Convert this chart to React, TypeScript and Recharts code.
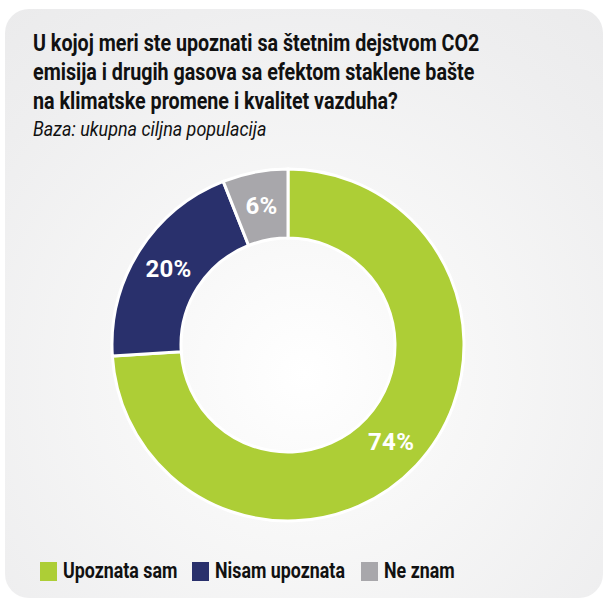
import React from "react";
import { PieChart, Pie, Cell, Legend } from "recharts";

const categories = ["Upoznata sam", "Nisam upoznata", "Ne znam"];
const shares = [74, 20, 6];
const colors = ["#adce36", "#29306c", "#a8a7ab"];

const titleLines = [
  "U kojoj meri ste upoznati sa štetnim dejstvom CO2",
  "emisija i drugih gasova sa efektom staklene bašte",
  "na klimatske promene i kvalitet vazduha?",
];
const subtitle = "Baza: ukupna ciljna populacija";

const data = categories.map((name, i) => ({ name, value: shares[i] }));

const RAD = Math.PI / 180;
const FONT = "Roboto, Arial, sans-serif";

function renderLabel(props: any) {
  const { cx, cy, midAngle, innerRadius, outerRadius, value } = props;
  const r = (innerRadius + outerRadius) / 2;
  const x = cx + r * Math.cos(-midAngle * RAD);
  const y = cy + r * Math.sin(-midAngle * RAD);
  return (
    <text
      x={x}
      y={y}
      fill="#ffffff"
      textAnchor="middle"
      dominantBaseline="central"
      fontFamily={FONT}
      fontWeight={700}
      fontSize={24}
      letterSpacing={0.3}
    >
      {value}%
    </text>
  );
}

// legend item widths so the squares land where the original has them
const legendWidths = [152, 169, 120];

function LegendContent() {
  return (
    <div style={{ display: "flex", alignItems: "center", fontFamily: FONT }}>
      {categories.map((c, i) => (
        <div key={c} style={{ display: "flex", alignItems: "center", width: legendWidths[i] }}>
          <span style={{ width: 17, height: 19, background: colors[i], display: "inline-block", marginRight: 6, flex: "none" }} />
          <span
            style={{
              fontSize: 22,
              fontWeight: 700,
              color: "#111",
              display: "inline-block",
              whiteSpace: "nowrap",
              transform: "scaleX(0.81)",
              transformOrigin: "left center",
              lineHeight: "24px",
            }}
          >
            {c}
          </span>
        </div>
      ))}
    </div>
  );
}

export default function App() {
  return (
    <div style={{ position: "absolute", left: 0, top: 0, width: 603, height: 600, background: "#fff", overflow: "hidden" }}>
      <div
        style={{
          position: "absolute",
          left: 5,
          top: 9,
          width: 598,
          height: 589,
          borderRadius: 24,
          background: "radial-gradient(circle at 50% 62%, #ffffff 0%, #f7f7f7 35%, #eeeeef 80%, #ebebec 100%)",
        }}
      />
      <div style={{ position: "absolute", left: 33, top: 29, fontFamily: FONT, color: "#111", whiteSpace: "nowrap" }}>
        {titleLines.map((l) => (
          <div
            key={l}
            style={{
              fontSize: 24,
              fontWeight: 700,
              lineHeight: "29px",
              transform: "scaleX(0.82)",
              transformOrigin: "left center",
            }}
          >
            {l}
          </div>
        ))}
        <div
          style={{
            fontSize: 19.5,
            fontStyle: "italic",
            lineHeight: "24px",
            marginTop: 2,
            transform: "scaleX(0.92)",
            transformOrigin: "left center",
          }}
        >
          {subtitle}
        </div>
      </div>
      <div style={{ position: "absolute", left: 0, top: 0 }}>
        <PieChart width={603} height={600} margin={{ top: 0, right: 0, bottom: 0, left: 0 }}>
          <Pie
            data={data}
            dataKey="value"
            nameKey="name"
            cx={288}
            cy={345}
            innerRadius={107}
            outerRadius={176}
            startAngle={90}
            endAngle={-270}
            stroke="#ffffff"
            strokeWidth={3}
            label={renderLabel}
            labelLine={false}
            isAnimationActive={false}
          >
            {data.map((d, i) => (
              <Cell key={d.name} fill={colors[i]} />
            ))}
          </Pie>
          <Legend
            layout="horizontal"
            verticalAlign="bottom"
            align="left"
            wrapperStyle={{ left: 40, bottom: 17, width: "auto" }}
            content={() => <LegendContent />}
          />
        </PieChart>
      </div>
    </div>
  );
}
